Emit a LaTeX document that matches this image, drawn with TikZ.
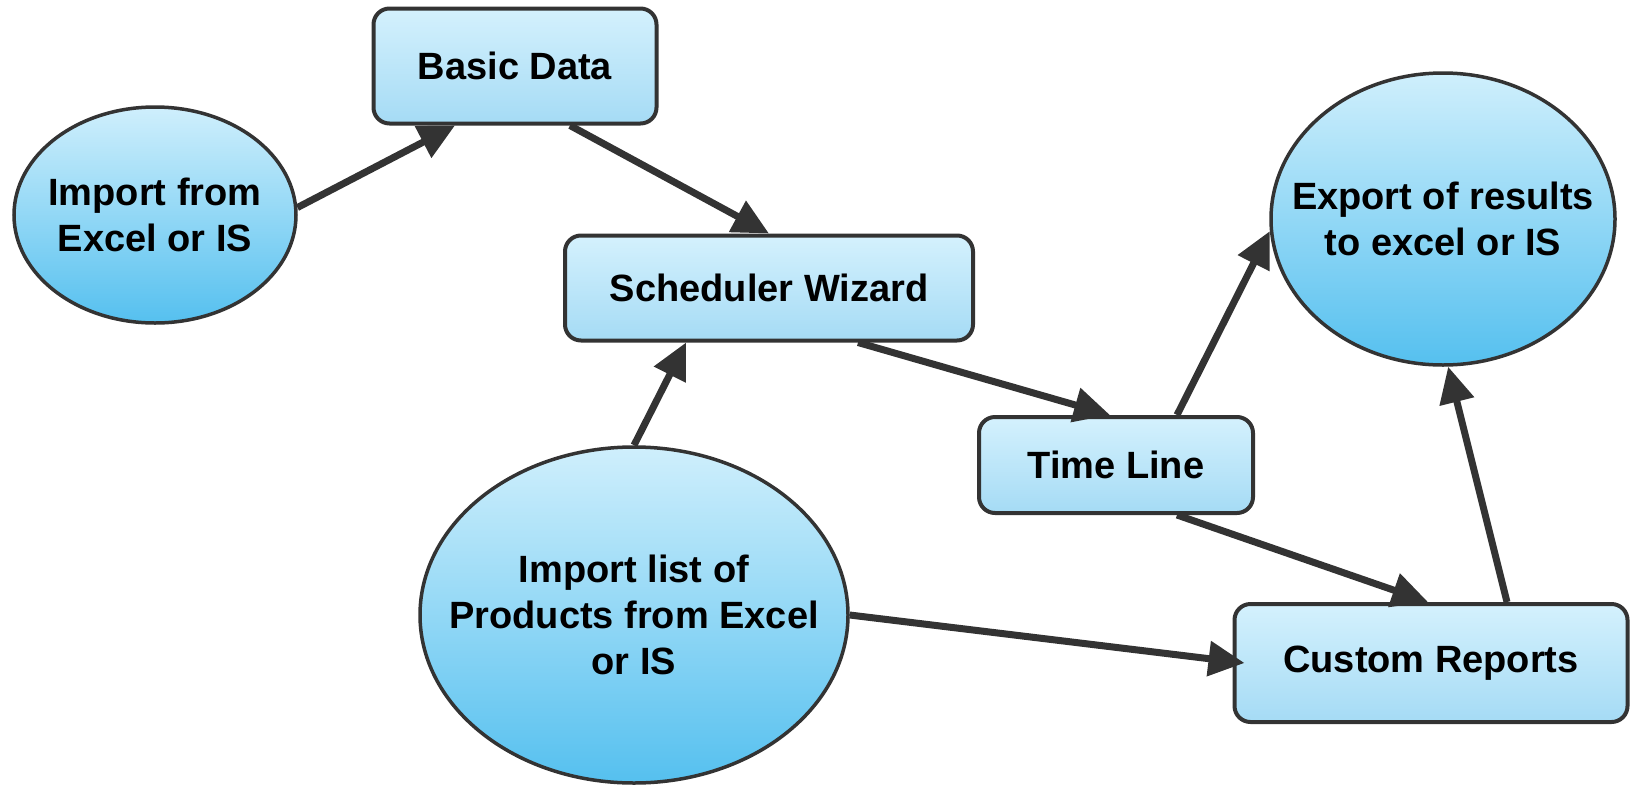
\documentclass[tikz,border=0pt]{standalone}
\usepackage{fontspec}
\setmainfont{Liberation Sans}
\usepackage{tikz}
\usetikzlibrary{positioning,arrows.meta,shapes.geometric}
\definecolor{edge}{HTML}{333333}
\definecolor{boxtop}{HTML}{D4F1FD}
\definecolor{boxbot}{HTML}{A5DBF5}
\definecolor{balltop}{HTML}{CFEFFC}
\definecolor{ballbot}{HTML}{55C0EF}
\tikzset{link/.style={draw=edge, line width=7pt, -{Triangle[length=36pt,width=34pt]}}}

\begin{document}
\begin{tikzpicture}[x=1pt, y=-1pt,
  box/.style = {draw=edge, line width=4pt, rounded corners=16pt, top color=boxtop, bottom color=boxbot, align=center, font=\bfseries\fontsize{38}{46}\selectfont},
  bubble/.style = {ellipse, draw=edge, line width=3.5pt, top color=balltop, bottom color=ballbot, inner xsep=-80pt, inner ysep=0pt, align=center, font=\bfseries\fontsize{38}{46}\selectfont}]
\useasboundingbox (0,0) rectangle (1641,785);
% boxes
\node[box, minimum width=283pt, minimum height=115pt] (basic) at (515,66) {Basic Data};
\node[box, minimum width=408pt, minimum height=105pt] (sched) at (769,288) {Scheduler Wizard};
\node[box, minimum width=274pt, minimum height=96pt] (time) at (1116,465) {Time Line};
\node[box, minimum width=393pt, minimum height=118pt] (rep) at (1431,663) {Custom Reports};
% ellipses
\node[bubble, minimum width=282pt, minimum height=216pt] (impxl) at (155,215) {Import from\\Excel or IS};
\node[bubble, minimum width=344pt, minimum height=292pt] (export) at (1443,219) {Export of results\\to excel or IS};
\node[bubble, minimum width=428pt, minimum height=336pt] (impl) at (634,615) {Import list of\\Products from Excel\\or IS};
% connectors
\draw[link] (impxl.3) -- ([xshift=-60pt]basic.south);
\draw[link] ([xshift=55pt]basic.south) -- (sched.north);
\draw[link] (impl.north) -- ([xshift=-83pt]sched.south);
\draw[link] ([xshift=89pt]sched.south) -- ([xshift=-6pt]time.north);
\draw[link] ([xshift=61pt]time.north) -- (export.184);
\draw[link] ([xshift=61pt]time.south) -- ([xshift=-3pt]rep.north);
\draw[link] (impl.east) -- ([xshift=12pt]rep.west);
\draw[link] ([xshift=76pt]rep.north) -- (export.272);
\end{tikzpicture}
\end{document}
